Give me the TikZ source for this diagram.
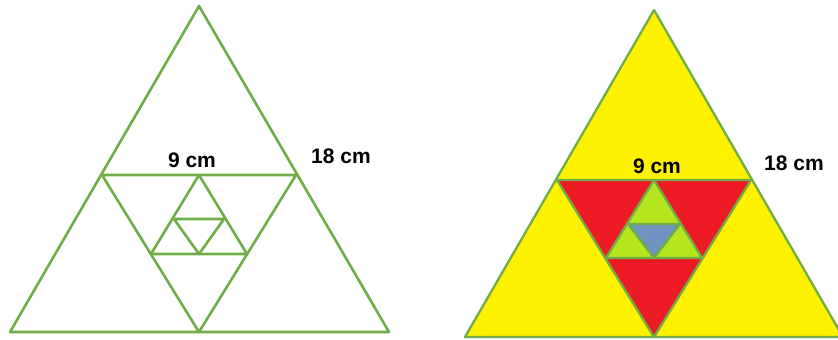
\documentclass[tikz,border=0pt]{standalone}
\usepackage{fontspec}
\setmainfont{Liberation Sans}
\definecolor{edgegreen}{RGB}{112,173,71}
\definecolor{fillyellow}{RGB}{255,242,0}
\definecolor{fillred}{RGB}{237,28,36}
\definecolor{filllime}{RGB}{181,230,29}
\definecolor{fillblue}{RGB}{112,146,190}
\tikzset{
  edgeline/.style={draw=edgegreen, line width=2.6pt, line join=round},
  edgelinetwo/.style={draw=edgegreen, line width=2.3pt, line join=round},
  dimlabel/.style={font=\bfseries\fontsize{21}{24}\selectfont, inner sep=0pt, anchor=base}
}
\begin{document}
\begin{tikzpicture}[x=1pt,y=-1pt]
\useasboundingbox (0,0) rectangle (838,340);
\clip (0,0) rectangle (838,340);
% ---------- left figure ----------
\coordinate (L1) at (199,6);
\coordinate (L2) at (10,332);
\coordinate (L3) at (389,332);
\coordinate (Lm) at (199,332);
\coordinate (La) at (102,175);
\coordinate (Lb) at (296,175);
\coordinate (Lt) at (199,175);
\coordinate (Lc) at (151,254);
\coordinate (Ld) at (247,254);
\coordinate (Le) at (174,219);
\coordinate (Lf) at (224,219);
\coordinate (Lg) at (199,254);
\draw[edgeline] (L1) -- (L2) -- (L3) -- cycle;
\draw[edgeline] (La) -- (Lb) -- (Lm) -- cycle;
\draw[edgeline] (Lt) -- (Lc) -- (Ld) -- cycle;
\draw[edgeline] (Le) -- (Lf) -- (Lg) -- cycle;
\node[dimlabel] (l9) at (192,167) {9 cm};
\node[dimlabel] (l18) at (341,163) {18 cm};
% ---------- right figure ----------
\coordinate (R1) at (654,10);
\coordinate (R2) at (465,337);
\coordinate (R3) at (843,337);
\coordinate (Rm) at (654,337);
\coordinate (Ra) at (557,180);
\coordinate (Rb) at (751,180);
\coordinate (Rt) at (654,180);
\coordinate (Rc) at (606,258);
\coordinate (Rd) at (702,258);
\coordinate (Re) at (628,224);
\coordinate (Rf) at (680,224);
\coordinate (Rg) at (654,258);
\fill[fillyellow] (R1) -- (R2) -- (R3) -- cycle;
\fill[fillred] (Ra) -- (Rb) -- (Rm) -- cycle;
\fill[filllime] (Rt) -- (Rc) -- (Rd) -- cycle;
\fill[fillblue] (Re) -- (Rf) -- (Rg) -- cycle;
\draw[edgelinetwo] (R1) -- (R2) -- (R3) -- cycle;
\draw[edgelinetwo] (Ra) -- (Rb) -- (Rm) -- cycle;
\draw[edgelinetwo] (Rt) -- (Rc) -- (Rd) -- cycle;
\draw[edgelinetwo] (Re) -- (Rf) -- (Rg) -- cycle;
\node[dimlabel] (r9) at (657,173) {9 cm};
\node[dimlabel] (r18) at (794,170) {18 cm};
\end{tikzpicture}
\end{document}
